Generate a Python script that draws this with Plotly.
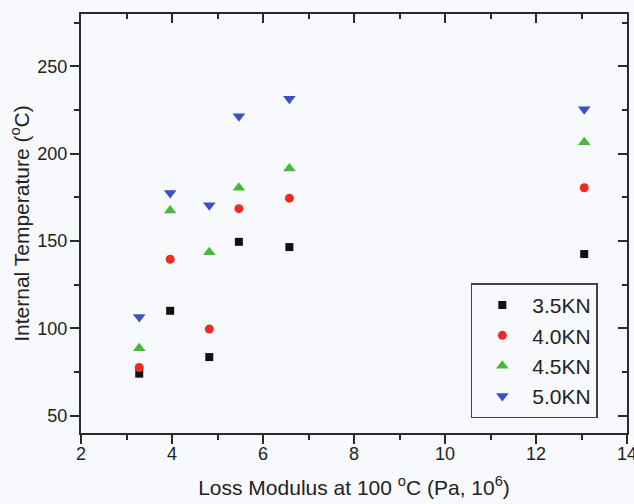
import plotly.graph_objects as go

x_vals = [3.28, 3.96, 4.82, 5.47, 6.58, 13.06]
series_names = ["3.5KN", "4.0KN", "4.5KN", "5.0KN"]
temp_35 = [74, 110, 83.5, 149.5, 146.5, 142.5]
temp_40 = [77.5, 139.5, 99.5, 168.5, 174.5, 180.5]
temp_45 = [88.5, 167.5, 143.5, 180.5, 191.5, 206.5]
temp_50 = [106.5, 177.5, 170.5, 221.5, 231.5, 225.5]

series_vals = [temp_35, temp_40, temp_45, temp_50]
symbols = ["square", "circle", "triangle-up", "triangle-down"]
colors = ["#111111", "#ee2a22", "#48b83a", "#3a52c0"]
sizes = [8, 9, 11, 11]

BG = "#f8f9fc"
AX = "#2a2a2a"
FONT = "Liberation Sans, Arial, sans-serif"

fig = go.Figure()
for name, vals, sym, col, sz in zip(series_names, series_vals, symbols, colors, sizes):
    fig.add_trace(go.Scatter(
        x=x_vals, y=vals, mode="markers", name=name,
        marker=dict(symbol=sym, color=col, size=sz, line=dict(width=0)),
    ))

# empty helper trace so the mirrored top/right axes (ticks pointing inward) get drawn
fig.add_trace(go.Scatter(x=[], y=[], xaxis="x2", yaxis="y2", showlegend=False,
                         hoverinfo="skip", mode="markers"))

tick_common = dict(ticklen=9, tickwidth=1.5, tickcolor=AX)
line_common = dict(showgrid=False, zeroline=False, showline=True, linecolor=AX,
                   linewidth=2, automargin=False)

fig.update_layout(
    width=634, height=504,
    margin=dict(l=81, r=7, t=14, b=71),
    paper_bgcolor=BG, plot_bgcolor=BG,
    font=dict(family=FONT, color="#222"),
    xaxis=dict(range=[2, 14], dtick=2, tick0=2, ticks="outside",
               tickfont=dict(family=FONT, size=18, color="#222"),
               ticklabelstandoff=-6, ticklabeloverflow="allow",
               minor=dict(dtick=1, ticklen=5, tickwidth=1.5, tickcolor=AX, ticks="outside"),
               title=dict(text="Loss Modulus at 100 <sup>o</sup>C (Pa, 10<sup>6</sup>)",
                          font=dict(family=FONT, size=21), standoff=18),
               **tick_common, **line_common),
    yaxis=dict(range=[40, 280], dtick=50, tick0=50, ticks="outside",
               tickfont=dict(family=FONT, size=18, color="#222"),
               ticklabelstandoff=-1,
               minor=dict(dtick=25, ticklen=5, tickwidth=1.5, tickcolor=AX, ticks="outside"),
               title=dict(text="Internal Temperature (<sup>o</sup>C)",
                          font=dict(family=FONT, size=21), standoff=2),
               **tick_common, **line_common),
    xaxis2=dict(range=[2, 14], overlaying="x", side="top", dtick=2, tick0=2,
                ticks="inside", showticklabels=False,
                minor=dict(dtick=1, ticklen=5, tickwidth=1.5, tickcolor=AX, ticks="inside"),
                **tick_common, **line_common),
    yaxis2=dict(range=[40, 280], overlaying="y", side="right", dtick=50, tick0=50,
                ticks="inside", showticklabels=False,
                minor=dict(dtick=25, ticklen=5, tickwidth=1.5, tickcolor=AX, ticks="inside"),
                **tick_common, **line_common),
    legend=dict(x=0.714, y=0.357, xanchor="left", yanchor="top",
                bgcolor=BG, bordercolor="#444", borderwidth=1.5,
                font=dict(family=FONT, size=21, color="#222"),
                itemwidth=50, tracegroupgap=0),
    showlegend=True,
)

fig.write_html("out.html", config={"displayModeBar": False},
               post_script="document.body.style.margin='0';")
